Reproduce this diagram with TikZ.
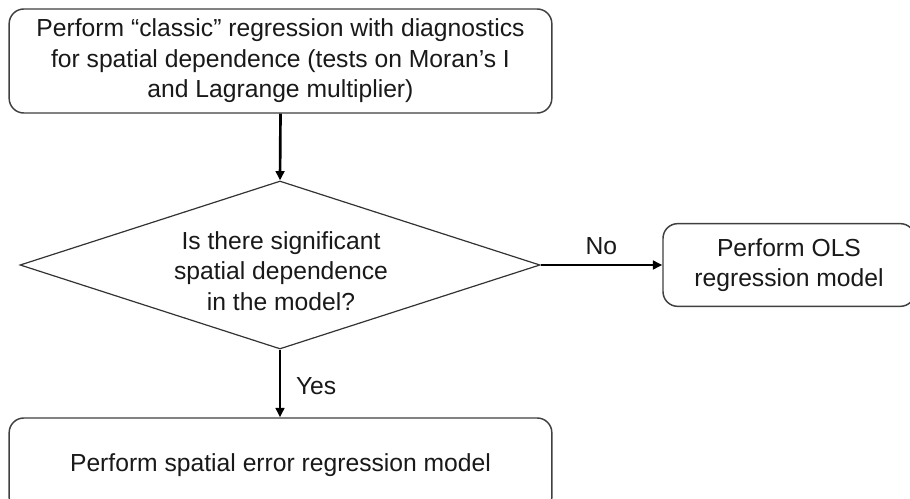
\documentclass[tikz,border=0pt]{standalone}
\usepackage{fontspec}
\setmainfont{Liberation Sans}
\usetikzlibrary{shapes.geometric,arrows.meta}

\begin{document}
\begin{tikzpicture}[x=0.75pt,y=-0.75pt,
  every node/.style={font=\fontsize{18.5pt}{23pt}\selectfont, align=center, text=black!90},
  procbox/.style={draw=black!75, line width=1.1pt, rounded corners=11pt, inner sep=0pt},
  decision/.style={draw=black!80, line width=0.9pt, shape=diamond, inner sep=0pt,
    minimum width=390pt, minimum height=126pt},
  flow/.style={line width=2pt, black, -{Triangle[length=7pt,width=6.5pt]}},
  lbl/.style={inner sep=0pt}
]
\clip (0,0) rectangle (910,499);
\fill[white] (0,0) rectangle (910,499);

% process boxes and decision
\node[procbox, minimum width=407pt, minimum height=78pt, text depth=4pt] (diag) at (280.5,61)
  {Perform “classic” regression with diagnostics\\
   for spatial dependence (tests on Moran’s I\\
   and Lagrange multiplier)};

\node[decision] (test) at (280,265) {};
\node at (281,271) (testtext) {Is there significant\\ spatial dependence\\ in the model?};

\node[procbox, minimum width=189pt, minimum height=62pt] (ols) at (789,265)
  {Perform OLS\\ regression model};

\node[procbox, minimum width=407pt, minimum height=70.5pt] (sem) at (280.5,465)
  {Perform spatial error regression model};

% connectors
\draw[flow] (diag.south) -- (test.north);
\draw[flow] (test.east) -- node[lbl, above=7pt] {No} (ols.west);
\draw[flow] (test.south) -- node[lbl, right=11pt, yshift=-2pt] {Yes} (test.south |- sem.north);
\end{tikzpicture}
\end{document}
